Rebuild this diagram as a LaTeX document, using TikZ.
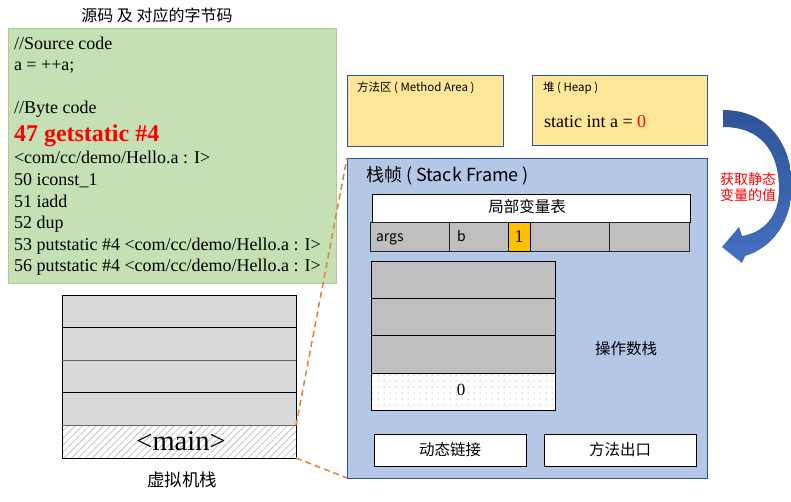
\documentclass[tikz,border=0pt]{standalone}
\usepackage{fontspec}
\setmainfont{Liberation Serif}
\newfontfamily\cjk{Noto Sans CJK SC}
\usetikzlibrary{patterns.meta}
\definecolor{codegreen}{HTML}{C5E0B4}
\definecolor{codegreenline}{HTML}{A9D18E}
\definecolor{areayellow}{HTML}{FFE699}
\definecolor{darkblue}{HTML}{2F5597}
\definecolor{framefill}{HTML}{B4C7E7}
\definecolor{cellgray}{HTML}{BFBFBF}
\definecolor{vmgray}{HTML}{D9D9D9}
\definecolor{slotorange}{HTML}{FFC000}
\definecolor{linkorange}{HTML}{ED7D31}
\definecolor{arrowblue}{HTML}{4472C4}
\definecolor{textred}{HTML}{FF0000}
\begin{document}
\begin{tikzpicture}[x=1pt,y=-1pt,
  every node/.style={inner sep=0pt, outer sep=0pt},
  rect/.style={anchor=north west, draw, line width=0.8pt},
  codeline/.style={anchor=base west, font=\fontsize{18}{20}\selectfont},
  area/.style={rect, fill=areayellow, draw=darkblue, line width=1pt},
  vmrow/.style={rect, fill=vmgray, draw=black, minimum width=234pt, minimum height=32.6pt},
  oprow/.style={rect, fill=cellgray, draw=black, minimum width=184pt, minimum height=37.4pt},
  lvcell/.style={rect, fill=cellgray, draw=black!85, minimum height=29pt},
  whitebox/.style={rect, fill=white, draw=black, line width=1pt},
  cjklabel/.style={font=\cjk\fontsize{15.5}{18}\selectfont},
  dashlink/.style={draw=linkorange, line width=1.5pt, dash pattern=on 6pt off 4pt}
]
\useasboundingbox (0,0) rectangle (791,501);

% code box
\node[font=\cjk\fontsize{16}{18}\selectfont] (codetitle) at (157,15) {源码 及 对应的字节码};
\node[rect, fill=codegreen, draw=codegreenline, line width=1pt, minimum width=328pt, minimum height=255pt] (code) at (8,28) {};
\node[codeline] (c1) at (14,49) {//Source code};
\node[codeline] (c2) at (14,70.5) {a = ++a;};
\node[codeline] (c3) at (14,113) {//Byte code};
\node[anchor=base west, font=\bfseries\fontsize{24}{26}\selectfont, text=textred] (c4) at (14,141) {47 getstatic \#4};
\node[codeline] (c5) at (14,163.5) {<com/cc/demo/Hello.a : I>};
\node[codeline] (c6) at (14,185.5) {50 iconst\_1};
\node[codeline] (c7) at (14,207) {51 iadd};
\node[codeline] (c8) at (14,228.5) {52 dup};
\node[codeline] (c9) at (14,250) {53 putstatic \#4 <com/cc/demo/Hello.a : I>};
\node[codeline] (c10) at (14,271) {56 putstatic \#4 <com/cc/demo/Hello.a : I>};

% VM stack
\node[vmrow] (vm1) at (62,295) {};
\node[vmrow] (vm2) at (62,327.6) {};
\node[vmrow] (vm3) at (62,360.2) {};
\node[vmrow] (vm4) at (62,392.8) {};
\node[rect, draw=black, minimum width=234pt, minimum height=32.6pt,
      pattern={Lines[angle=45,distance=5pt,line width=0.8pt]}, pattern color=black!25] (vmmain) at (62,425.4) {};
\draw[black!60, line width=1.3pt] (vm2.south west) -- (vm2.south east);
\draw[black!60, line width=1.3pt] (vm4.south west) -- (vm4.south east);
\node[font=\fontsize{28.5}{30}\selectfont] (mainlbl) at (181,441) {<main>};
\node[font=\cjk\fontsize{17.5}{20}\selectfont] (vmlbl) at (182,480) {虚拟机栈};

% method area and heap
\node[area, minimum width=156pt, minimum height=71pt] (method) at (347,75) {};
\node[anchor=west, font=\cjk\fontsize{11.5}{13}\selectfont] (methodlbl) at (357,88) {方法区 ( Method Area )};
\node[area, minimum width=175pt, minimum height=70pt] (heap) at (532,75) {};
\node[anchor=west, font=\cjk\fontsize{11.5}{13}\selectfont] (heaplbl) at (543,88) {堆 ( Heap )};
\node[anchor=base west, font=\fontsize{18}{20}\selectfont] (heapval) at (544,127) {static int a = \textcolor{textred}{0}};

% stack frame
\node[rect, fill=framefill, draw=darkblue, line width=1pt, minimum width=360pt, minimum height=320pt] (frame) at (347,158) {};
\node[anchor=west, font=\cjk\fontsize{18}{20}\selectfont] (framelbl) at (366,176) {栈帧 ( Stack Frame )};

% local variable table
\node[whitebox, minimum width=318pt, minimum height=28pt] (lvt) at (372,194) {};
\node[cjklabel] (lvtlbl) at (527,207) {局部变量表};
\node[lvcell, minimum width=79pt] (lvargs) at (370,222) {};
\node[lvcell, minimum width=160pt] (lvb) at (449,222) {};
\node[lvcell, minimum width=80pt] (lvlast) at (609,222) {};
\node[anchor=base west, font=\cjk\fontsize{14}{16}\selectfont] (argslbl) at (376,241) {args};
\node[anchor=base west, font=\cjk\fontsize{14}{16}\selectfont] (blbl) at (457,241) {b};
\node[rect, fill=slotorange, draw=black, minimum width=22pt, minimum height=29pt] (slot) at (508,222) {};
\node[font=\fontsize{18}{20}\selectfont] (slotval) at (slot.center) {1};

% operand stack
\node[oprow] (op1) at (371,261) {};
\node[oprow] (op2) at (371,298.4) {};
\node[oprow] (op3) at (371,335.8) {};
\node[rect, draw=black, fill=white, minimum width=184pt, minimum height=37.4pt] (op4bg) at (371,373.2) {};
\node[rect, draw=black, minimum width=184pt, minimum height=37.4pt,
      pattern={Dots[distance=6pt,radius=0.5pt]}, pattern color=black!55] (op4) at (371,373.2) {};
\node[font=\fontsize{17}{18}\selectfont] (opval) at (461,390) {0};
\node[cjklabel] (oplbl) at (626,349) {操作数栈};

% bottom boxes
\node[whitebox, minimum width=152pt, minimum height=32pt] (dyn) at (374,434) {};
\node[cjklabel] at (dyn.center) {动态链接};
\node[whitebox, minimum width=152pt, minimum height=32pt] (ret) at (544,434) {};
\node[cjklabel] at (ret.center) {方法出口};

% orange dashed connectors
\draw[dashlink] (vmmain.north east) -- (frame.north west);
\draw[dashlink] (vmmain.south east) -- (frame.south west);

% curved blue arrow (banded gradient, dark at top)
\begin{scope}
\clip (723,110) .. controls (765,110) and (791,140) .. (792,185)
  .. controls (792,222) and (772,248) .. (745,256)
  -- (742,263) -- (722,247) -- (739,227) -- (742,236)
  .. controls (765,232) and (779,215) .. (779,190)
  .. controls (779,150) and (760,127) .. (723,127) -- cycle;
\foreach \i in {0,...,19}{
  \pgfmathtruncatemacro\pct{100-\i*5}
  \fill[darkblue!\pct!arrowblue] (715,108+\i*8) rectangle (795,116.5+\i*8);
}
\end{scope}
\node[text=textred, font=\cjk\fontsize{14}{16}\selectfont, align=center] (arrowlbl) at (748,187) {获取静态\\[0pt]变量的值};
\end{tikzpicture}
\end{document}
